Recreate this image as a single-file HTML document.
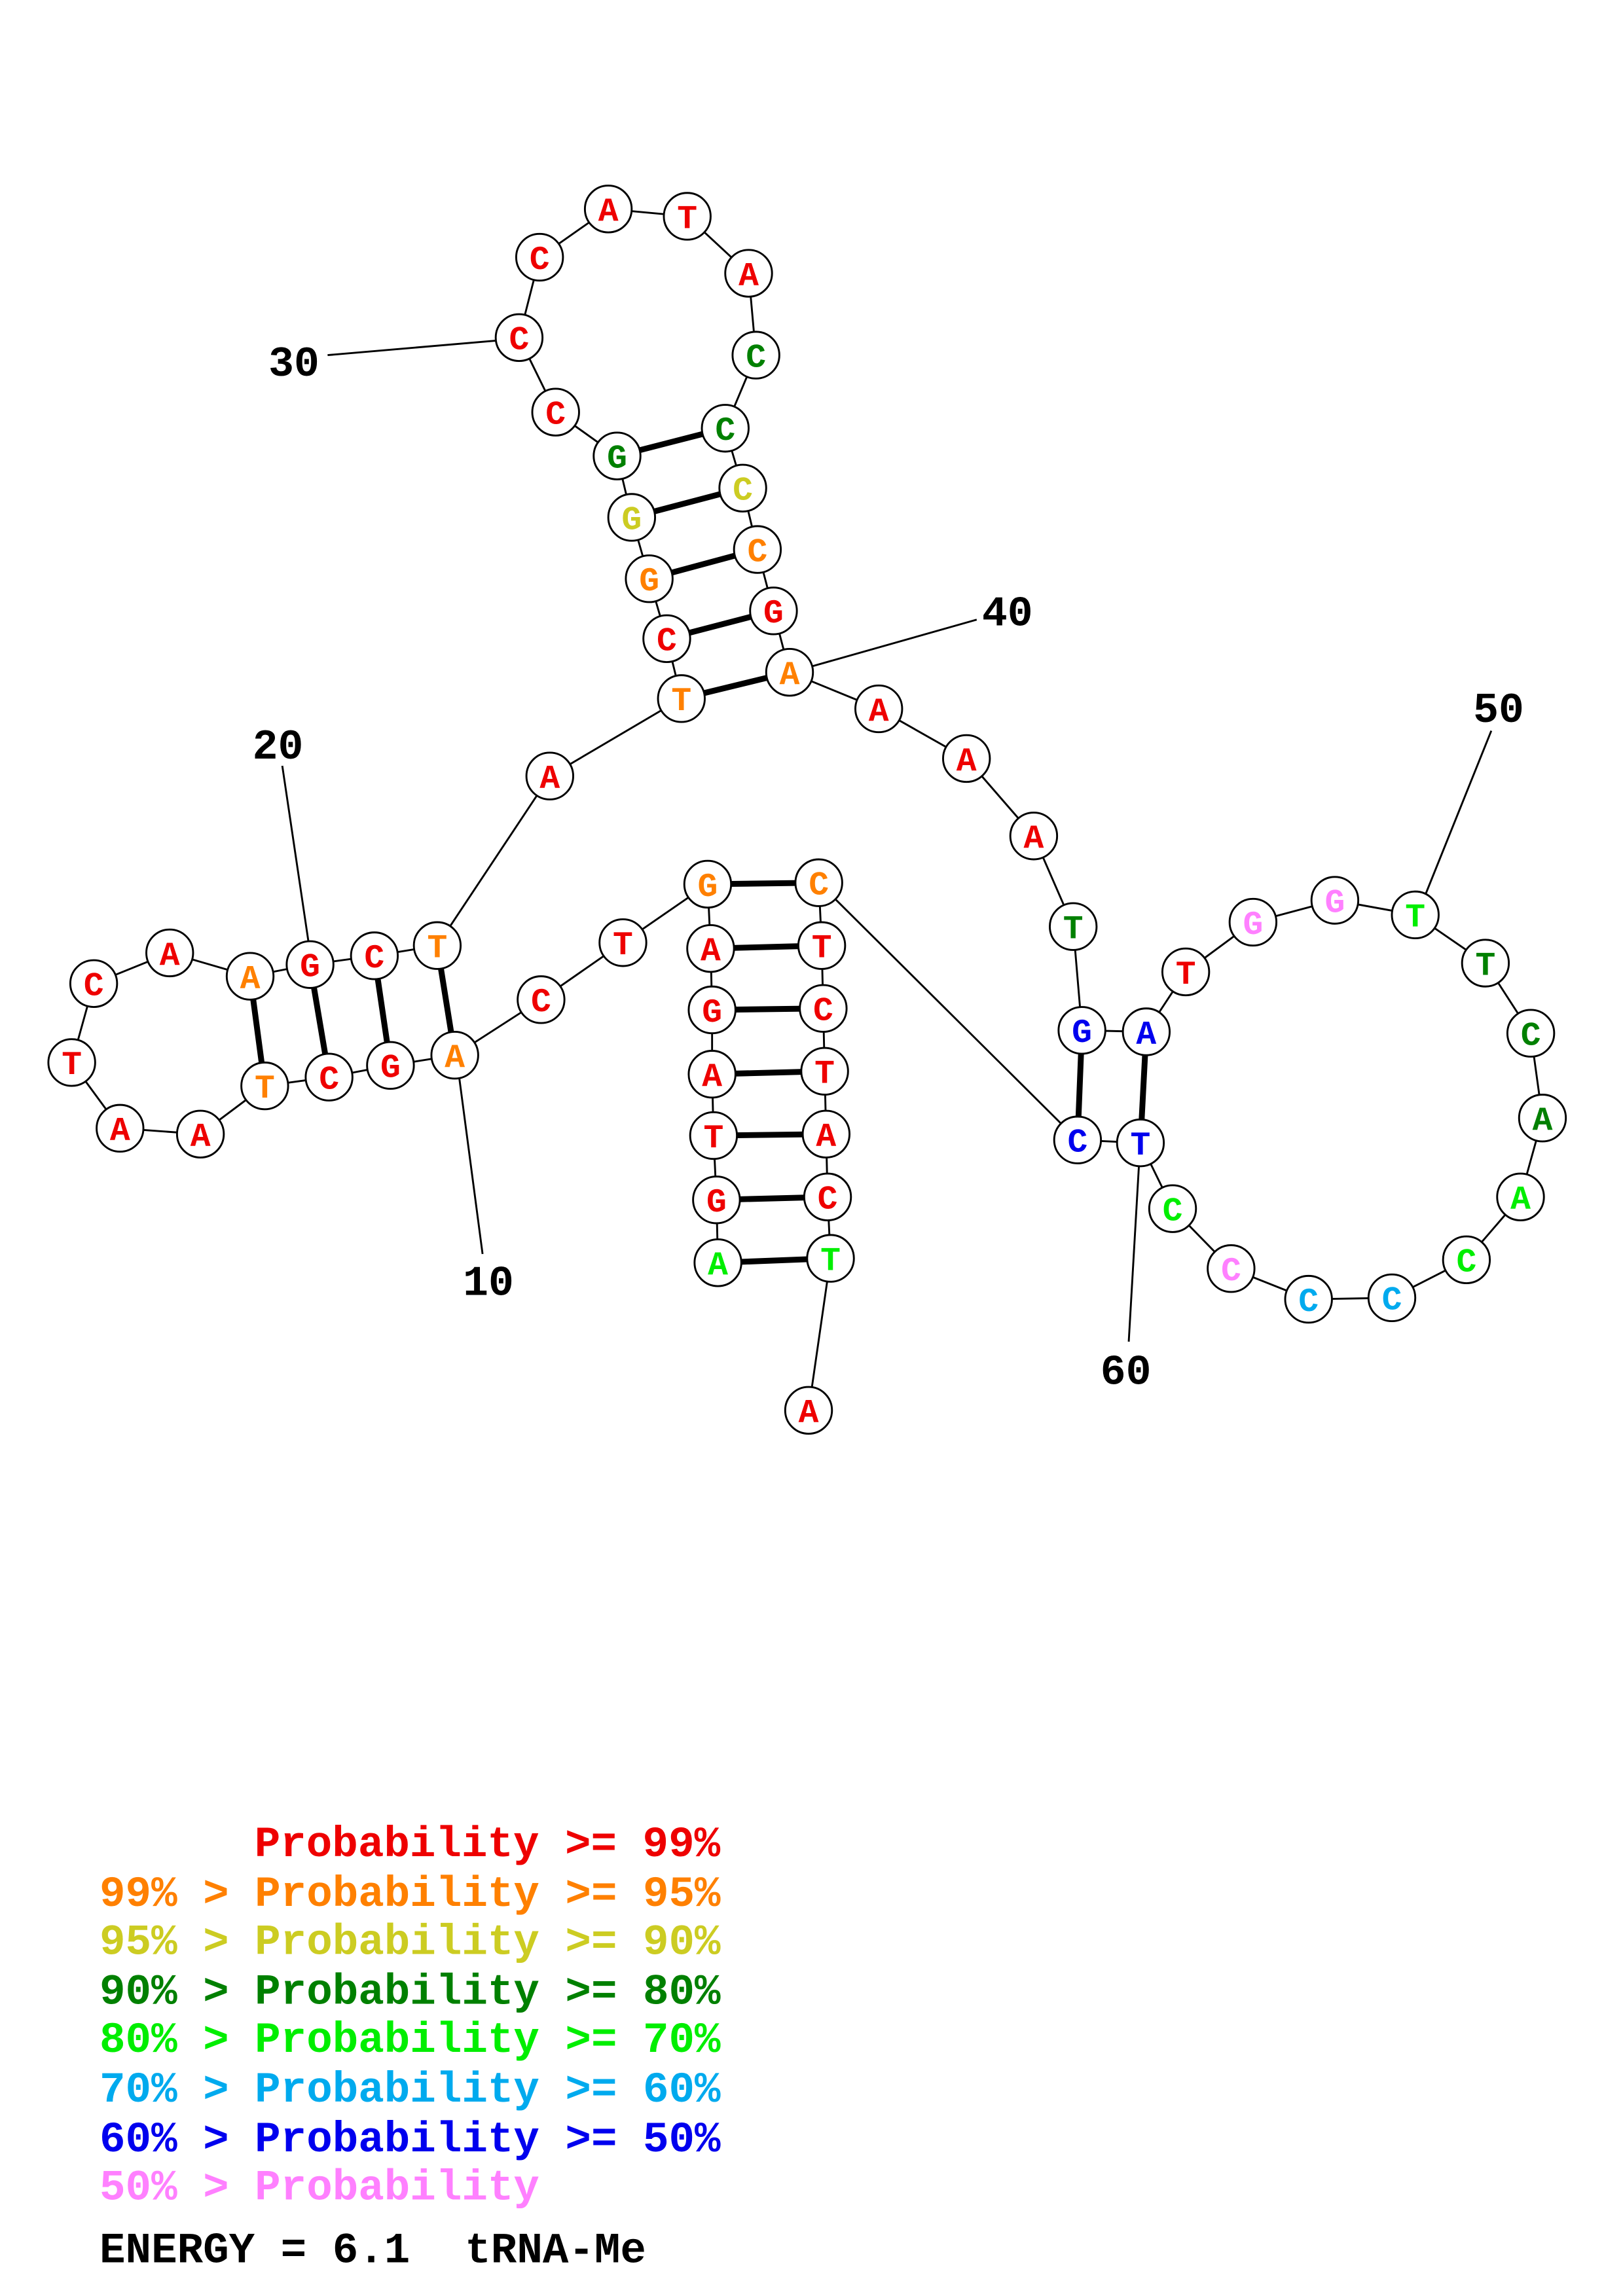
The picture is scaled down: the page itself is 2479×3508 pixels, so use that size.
<!DOCTYPE html>
<html><head><meta charset="utf-8"><style>html,body{margin:0;padding:0;background:#fff}svg{display:block}</style></head>
<body>
<svg xmlns="http://www.w3.org/2000/svg" width="2479" height="3508" viewBox="0 0 1110 1571">
<rect width="1110" height="1571" fill="#fff"/>
<g stroke="#000" stroke-width="1.3" fill="none">
<polyline points="491,864 490,821 488,777 487,735 487,691 486,649 484,605 426,645 370,684 311,722 267,729 225,737 181,743 137,776 82,772 49,727 64,673 116,652 171,668 212,660 256,654 299,647 376,531 466,478 456,437 444,396 432,354 422,312 380,282 355,231 369,176 416,143 470,148 512,187 517,243 496,293 508,334 518,376 529,418 540,460 601,485 661,519 707,572 734,634 740,705 784,706 811,665 857,631 913,616 968,626 1016,659 1047,707 1055,765 1040,819 1003,862 952,888 895,889 842,868 802,827 780,782 737,780 560,604 562,647 563,690 564,733 565,776 566,819 568,861 553,965"/>
<line x1="224" y1="243" x2="340" y2="233"/>
<line x1="193" y1="524" x2="211" y2="645"/>
<line x1="330" y1="858" x2="314" y2="737"/>
<line x1="668" y1="424" x2="555" y2="456"/>
<line x1="1020" y1="500" x2="975" y2="612"/>
<line x1="772" y1="918" x2="779" y2="797"/>
</g>
<g stroke="#000" stroke-width="4">
<line x1="491" y1="864" x2="568" y2="861"/><line x1="490" y1="821" x2="566" y2="819"/><line x1="488" y1="777" x2="565" y2="776"/><line x1="487" y1="735" x2="564" y2="733"/><line x1="487" y1="691" x2="563" y2="690"/><line x1="486" y1="649" x2="562" y2="647"/><line x1="484" y1="605" x2="560" y2="604"/>
<line x1="311" y1="722" x2="299" y2="647"/><line x1="267" y1="729" x2="256" y2="654"/><line x1="225" y1="737" x2="212" y2="660"/><line x1="181" y1="743" x2="171" y2="668"/>
<line x1="466" y1="478" x2="540" y2="460"/><line x1="456" y1="437" x2="529" y2="418"/><line x1="444" y1="396" x2="518" y2="376"/><line x1="432" y1="354" x2="508" y2="334"/><line x1="422" y1="312" x2="496" y2="293"/>
<line x1="740" y1="705" x2="737" y2="780"/><line x1="784" y1="706" x2="780" y2="782"/>
</g>
<g fill="#fff" stroke="#000" stroke-width="1.3">
<circle cx="491" cy="864" r="16"/><circle cx="490" cy="821" r="16"/><circle cx="488" cy="777" r="16"/><circle cx="487" cy="735" r="16"/><circle cx="487" cy="691" r="16"/><circle cx="486" cy="649" r="16"/><circle cx="484" cy="605" r="16"/><circle cx="426" cy="645" r="16"/><circle cx="370" cy="684" r="16"/><circle cx="311" cy="722" r="16"/><circle cx="267" cy="729" r="16"/><circle cx="225" cy="737" r="16"/><circle cx="181" cy="743" r="16"/><circle cx="137" cy="776" r="16"/><circle cx="82" cy="772" r="16"/><circle cx="49" cy="727" r="16"/><circle cx="64" cy="673" r="16"/><circle cx="116" cy="652" r="16"/><circle cx="171" cy="668" r="16"/><circle cx="212" cy="660" r="16"/><circle cx="256" cy="654" r="16"/><circle cx="299" cy="647" r="16"/><circle cx="376" cy="531" r="16"/><circle cx="466" cy="478" r="16"/><circle cx="456" cy="437" r="16"/><circle cx="444" cy="396" r="16"/><circle cx="432" cy="354" r="16"/><circle cx="422" cy="312" r="16"/><circle cx="380" cy="282" r="16"/><circle cx="355" cy="231" r="16"/><circle cx="369" cy="176" r="16"/><circle cx="416" cy="143" r="16"/><circle cx="470" cy="148" r="16"/><circle cx="512" cy="187" r="16"/><circle cx="517" cy="243" r="16"/><circle cx="496" cy="293" r="16"/><circle cx="508" cy="334" r="16"/><circle cx="518" cy="376" r="16"/><circle cx="529" cy="418" r="16"/><circle cx="540" cy="460" r="16"/><circle cx="601" cy="485" r="16"/><circle cx="661" cy="519" r="16"/><circle cx="707" cy="572" r="16"/><circle cx="734" cy="634" r="16"/><circle cx="740" cy="705" r="16"/><circle cx="784" cy="706" r="16"/><circle cx="811" cy="665" r="16"/><circle cx="857" cy="631" r="16"/><circle cx="913" cy="616" r="16"/><circle cx="968" cy="626" r="16"/><circle cx="1016" cy="659" r="16"/><circle cx="1047" cy="707" r="16"/><circle cx="1055" cy="765" r="16"/><circle cx="1040" cy="819" r="16"/><circle cx="1003" cy="862" r="16"/><circle cx="952" cy="888" r="16"/><circle cx="895" cy="889" r="16"/><circle cx="842" cy="868" r="16"/><circle cx="802" cy="827" r="16"/><circle cx="780" cy="782" r="16"/><circle cx="737" cy="780" r="16"/><circle cx="560" cy="604" r="16"/><circle cx="562" cy="647" r="16"/><circle cx="563" cy="690" r="16"/><circle cx="564" cy="733" r="16"/><circle cx="565" cy="776" r="16"/><circle cx="566" cy="819" r="16"/><circle cx="568" cy="861" r="16"/><circle cx="553" cy="965" r="16"/>
</g>
<g font-family="'Liberation Mono', monospace" font-weight="bold" font-size="23" text-anchor="middle">
<text x="491" y="872" fill="#00ee00">A</text><text x="490" y="829" fill="#ee0000">G</text><text x="488" y="785" fill="#ee0000">T</text><text x="487" y="743" fill="#ee0000">A</text><text x="487" y="699" fill="#ee0000">G</text><text x="486" y="657" fill="#ee0000">A</text><text x="484" y="613" fill="#ff8000">G</text><text x="426" y="653" fill="#ee0000">T</text><text x="370" y="692" fill="#ee0000">C</text><text x="311" y="730" fill="#ff8000">A</text><text x="267" y="737" fill="#ee0000">G</text><text x="225" y="745" fill="#ee0000">C</text><text x="181" y="751" fill="#ff8000">T</text><text x="137" y="784" fill="#ee0000">A</text><text x="82" y="780" fill="#ee0000">A</text><text x="49" y="735" fill="#ee0000">T</text><text x="64" y="681" fill="#ee0000">C</text><text x="116" y="660" fill="#ee0000">A</text><text x="171" y="676" fill="#ff8000">A</text><text x="212" y="668" fill="#ee0000">G</text><text x="256" y="662" fill="#ee0000">C</text><text x="299" y="655" fill="#ff8000">T</text><text x="376" y="539" fill="#ee0000">A</text><text x="466" y="486" fill="#ff8000">T</text><text x="456" y="445" fill="#ee0000">C</text><text x="444" y="404" fill="#ff8000">G</text><text x="432" y="362" fill="#cccc22">G</text><text x="422" y="320" fill="#008000">G</text><text x="380" y="290" fill="#ee0000">C</text><text x="355" y="239" fill="#ee0000">C</text><text x="369" y="184" fill="#ee0000">C</text><text x="416" y="151" fill="#ee0000">A</text><text x="470" y="156" fill="#ee0000">T</text><text x="512" y="195" fill="#ee0000">A</text><text x="517" y="251" fill="#008000">C</text><text x="496" y="301" fill="#008000">C</text><text x="508" y="342" fill="#cccc22">C</text><text x="518" y="384" fill="#ff8000">C</text><text x="529" y="426" fill="#ee0000">G</text><text x="540" y="468" fill="#ff8000">A</text><text x="601" y="493" fill="#ee0000">A</text><text x="661" y="527" fill="#ee0000">A</text><text x="707" y="580" fill="#ee0000">A</text><text x="734" y="642" fill="#008000">T</text><text x="740" y="713" fill="#0000ee">G</text><text x="784" y="714" fill="#0000ee">A</text><text x="811" y="673" fill="#ee0000">T</text><text x="857" y="639" fill="#ff80ff">G</text><text x="913" y="624" fill="#ff80ff">G</text><text x="968" y="634" fill="#00ee00">T</text><text x="1016" y="667" fill="#008000">T</text><text x="1047" y="715" fill="#008000">C</text><text x="1055" y="773" fill="#008000">A</text><text x="1040" y="827" fill="#00ee00">A</text><text x="1003" y="870" fill="#00ee00">C</text><text x="952" y="896" fill="#00aaee">C</text><text x="895" y="897" fill="#00aaee">C</text><text x="842" y="876" fill="#ff80ff">C</text><text x="802" y="835" fill="#00ee00">C</text><text x="780" y="790" fill="#0000ee">T</text><text x="737" y="788" fill="#0000ee">C</text><text x="560" y="612" fill="#ff8000">C</text><text x="562" y="655" fill="#ee0000">T</text><text x="563" y="698" fill="#ee0000">C</text><text x="564" y="741" fill="#ee0000">T</text><text x="565" y="784" fill="#ee0000">A</text><text x="566" y="827" fill="#ee0000">C</text><text x="568" y="869" fill="#00ee00">T</text><text x="553" y="973" fill="#ee0000">A</text>
</g>
<g font-family="'Liberation Mono', monospace" font-weight="bold" font-size="29" text-anchor="middle" fill="#000">
<text x="201" y="257">30</text><text x="190" y="519">20</text><text x="334" y="886">10</text><text x="689" y="428">40</text><text x="1025" y="494">50</text><text x="770" y="947">60</text>
</g>
<g font-family="'Liberation Mono', monospace" font-weight="bold" font-size="29.5">
<text x="174" y="1270" fill="#ee0000">Probability &gt;= 99%</text>
<text x="68" y="1304" fill="#ff8000">99% &gt; Probability &gt;= 95%</text>
<text x="68" y="1337" fill="#cccc22">95% &gt; Probability &gt;= 90%</text>
<text x="68" y="1371" fill="#008000">90% &gt; Probability &gt;= 80%</text>
<text x="68" y="1404" fill="#00ee00">80% &gt; Probability &gt;= 70%</text>
<text x="68" y="1438" fill="#00aaee">70% &gt; Probability &gt;= 60%</text>
<text x="68" y="1472" fill="#0000ee">60% &gt; Probability &gt;= 50%</text>
<text x="68" y="1505" fill="#ff80ff">50% &gt; Probability</text>
<text x="68" y="1548" fill="#000">ENERGY = 6.1</text>
<text x="318" y="1548" fill="#000">tRNA-Me</text>
</g>
</svg>
</body></html>
